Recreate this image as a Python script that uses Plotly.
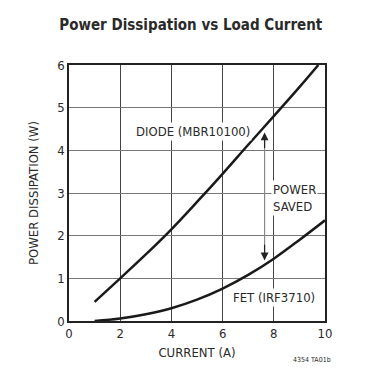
import plotly.graph_objects as go

# Data
diode_x = [1.0, 2.0, 3.0, 4.0, 5.0, 6.0, 7.0, 8.0, 9.0, 9.74]
diode_y = [0.45, 1.0, 1.56, 2.15, 2.79, 3.45, 4.13, 4.8, 5.48, 6.0]
fet_x = [1.0, 2.0, 3.0, 4.0, 5.0, 6.0, 7.0, 8.0, 9.0, 10.0]
fet_y = [0.0, 0.06, 0.16, 0.30, 0.50, 0.76, 1.08, 1.46, 1.9, 2.36]
x_ticks = [0, 2, 4, 6, 8, 10]
y_ticks = [0, 1, 2, 3, 4, 5, 6]
arrow_x = 7.64
arrow_top = 4.42
arrow_bottom = 1.42

FONT = "DejaVu Sans Condensed, Liberation Sans Narrow, sans-serif"
TXT = "#2a2a2a"

fig = go.Figure()
fig.add_trace(go.Scatter(x=diode_x, y=diode_y, mode="lines",
                         line=dict(color="#1a1a1a", width=2.5, shape="spline", smoothing=1.0),
                         showlegend=False, hoverinfo="skip"))
fig.add_trace(go.Scatter(x=fet_x, y=fet_y, mode="lines",
                         line=dict(color="#1a1a1a", width=2.5, shape="spline", smoothing=1.0),
                         showlegend=False, hoverinfo="skip"))

# double-headed arrow "power saved"
fig.add_shape(type="line", x0=arrow_x, x1=arrow_x, y0=arrow_bottom + 0.15, y1=arrow_top - 0.15,
              line=dict(color="#888888", width=1.2), layer="above")
for y_head, y_tail in [(arrow_top, arrow_top - 0.4), (arrow_bottom, arrow_bottom + 0.4)]:
    fig.add_annotation(x=arrow_x, y=y_head, ax=arrow_x, ay=y_tail, xref="x", yref="y",
                       axref="x", ayref="y", showarrow=True, arrowhead=2, arrowsize=1.3,
                       arrowwidth=1.2, arrowcolor="#222222", text="")

labels = [
    ("DIODE (MBR10100)", 4.85, 4.44, "center"),
    ("POWER<br>SAVED", 7.88, 2.88, "left"),
    ("FET (IRF3710)", 8.0, 0.56, "center"),
]
for txt, lx, ly, al in labels:
    fig.add_annotation(x=lx, y=ly, text=txt, showarrow=False, xanchor=al, align="left",
                       bgcolor="white", borderpad=1,
                       font=dict(family=FONT, size=13, color=TXT))

fig.add_annotation(x=1.0, y=0, xref="paper", yref="paper", xanchor="right", yanchor="middle",
                   xshift=8, yshift=-39, text="4354 TA01b", showarrow=False,
                   font=dict(family=FONT, size=7, color=TXT))

fig.update_layout(
    width=363, height=361,
    margin=dict(l=61, r=46, t=57, b=48),
    paper_bgcolor="white", plot_bgcolor="white",
    title=dict(text="<b>Power Dissipation vs Load Current</b>", x=0.5036, xanchor="center",
               xref="container", yref="container",
               y=0.953, yanchor="middle",
               font=dict(family=FONT, size=15, color=TXT)),
    xaxis=dict(range=[0, 10], tickvals=x_ticks, showgrid=True, gridcolor="#444444", gridwidth=1,
               zeroline=False, showline=True, linecolor="#222222", linewidth=1.5, mirror=True,
               ticks="", ticklen=0, automargin=False,
               tickfont=dict(family=FONT, size=13, color=TXT),
               title=dict(text="CURRENT (A)", font=dict(family=FONT, size=13, color=TXT), standoff=8)),
    yaxis=dict(range=[0, 6], tickvals=y_ticks, showgrid=True, gridcolor="#777777", gridwidth=1,
               zeroline=False, showline=True, linecolor="#222222", linewidth=1.5, mirror=True,
               ticks="", ticklen=0, automargin=False,
               tickfont=dict(family=FONT, size=13, color=TXT),
               title=dict(text="POWER DISSIPATION (W)", font=dict(family=FONT, size=13, color=TXT), standoff=16)),
)

fig.write_html("out.html")
